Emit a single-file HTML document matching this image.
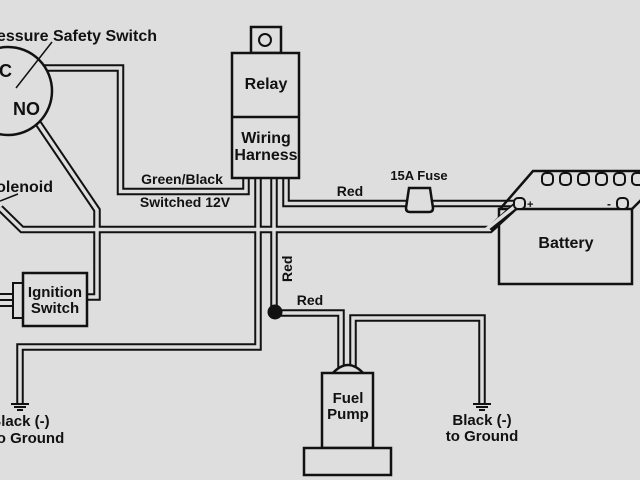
<!DOCTYPE html>
<html><head><meta charset="utf-8"><style>
html,body{margin:0;padding:0;background:#dedede;}
svg{display:block;}
text{font-family:"Liberation Sans",sans-serif;font-weight:bold;fill:#111;}
.w1{fill:none;stroke:#111;stroke-width:7.5;stroke-linejoin:miter;}
.w2{fill:none;stroke:#dedede;stroke-width:3.5;stroke-linejoin:miter;}
</style></head><body>
<svg width="640" height="480" viewBox="0 0 640 480" xmlns="http://www.w3.org/2000/svg">
<rect width="640" height="480" fill="#dedede"/>
<g>
<path class="w1" d="M44 68 H120.5 V191.5 H246 V176"/>
<path class="w1" d="M36 120 L97 210 V297 H86"/>
<path class="w1" d="M0 208 L22 229.5 H490 L518 204"/>
<path class="w1" d="M286 176 V203.5 H518"/>
<path class="w1" d="M258 176 V347 H20 V404"/>
<path class="w1" d="M274 176 V311 M274 313 H341 V372"/>
<path class="w1" d="M353 372 V318 H482 V404"/>
</g>
<g>
<path class="w2" d="M44 68 H120.5 V191.5 H246 V176"/>
<path class="w2" d="M36 120 L97 210 V297 H86"/>
<path class="w2" d="M0 208 L22 229.5 H490 L518 204"/>
<path class="w2" d="M286 176 V203.5 H518"/>
<path class="w2" d="M258 176 V347 H20 V404"/>
<path class="w2" d="M274 176 V311 M274 313 H341 V372"/>
<path class="w2" d="M353 372 V318 H482 V404"/>
</g>
<path d="M409 188 H430 L433 208 Q433 212 429 212 H410 Q406 212 406 208 Z" fill="#dedede" stroke="#111" stroke-width="2.5"/>
<circle cx="275" cy="312" r="7.5" fill="#111"/>
<circle cx="8" cy="91" r="44" fill="#dedede" stroke="#111" stroke-width="2.5"/>
<line x1="52" y1="42" x2="16" y2="88" stroke="#111" stroke-width="1.5"/>
<text x="157" y="41" font-size="16" text-anchor="end">Pressure Safety Switch</text>
<text x="-1" y="77" font-size="18">C</text>
<text x="13" y="115" font-size="18">NO</text>
<text x="53" y="192" font-size="16" text-anchor="end">Solenoid</text>
<line x1="18" y1="194" x2="0" y2="201" stroke="#111" stroke-width="1.5"/>
<rect x="251" y="27" width="30" height="26" fill="#dedede" stroke="#111" stroke-width="2.5"/>
<circle cx="265" cy="40" r="6" fill="none" stroke="#111" stroke-width="2"/>
<rect x="232" y="53" width="67" height="125" fill="#dedede" stroke="#111" stroke-width="2.5"/>
<line x1="232" y1="117" x2="299" y2="117" stroke="#111" stroke-width="2.5"/>
<text x="266" y="89" font-size="16" text-anchor="middle">Relay</text>
<text x="266" y="143" font-size="16" text-anchor="middle">Wiring</text>
<text x="266" y="160" font-size="16" text-anchor="middle">Harness</text>
<text x="182" y="184" font-size="14" text-anchor="middle">Green/Black</text>
<text x="185" y="207" font-size="14" text-anchor="middle">Switched 12V</text>
<text x="350" y="196" font-size="14" text-anchor="middle">Red</text>
<text x="419" y="180" font-size="13" text-anchor="middle">15A Fuse</text>
<text x="0" y="0" font-size="14" transform="translate(292,282) rotate(-90)">Red</text>
<text x="310" y="305" font-size="14" text-anchor="middle">Red</text>
<rect x="13" y="283" width="11" height="35" fill="#dedede" stroke="#111" stroke-width="2"/>
<line x1="0" y1="294" x2="13" y2="294" stroke="#111" stroke-width="2"/>
<line x1="0" y1="300" x2="13" y2="300" stroke="#111" stroke-width="2"/>
<line x1="0" y1="306" x2="13" y2="306" stroke="#111" stroke-width="2"/>
<rect x="23" y="273" width="64" height="53" fill="#dedede" stroke="#111" stroke-width="2.5"/>
<text x="55" y="297" font-size="15" text-anchor="middle">Ignition</text>
<text x="55" y="313" font-size="15" text-anchor="middle">Switch</text>
<g stroke="#111" stroke-width="2">
<line x1="11" y1="404" x2="29" y2="404"/><line x1="14" y1="407" x2="26" y2="407"/><line x1="17" y1="410" x2="23" y2="410"/>
<line x1="473" y1="404" x2="491" y2="404"/><line x1="476" y1="407" x2="488" y2="407"/><line x1="479" y1="410" x2="485" y2="410"/>
</g>
<text x="20" y="426" font-size="15" text-anchor="middle">Black (-)</text>
<text x="28" y="443" font-size="15" text-anchor="middle">to Ground</text>
<text x="482" y="425" font-size="15" text-anchor="middle">Black (-)</text>
<text x="482" y="441" font-size="15" text-anchor="middle">to Ground</text>
<path d="M332 374 Q348 356 364 374 Z" fill="#dedede" stroke="#111" stroke-width="2.5"/>
<rect x="322" y="373" width="51" height="75" fill="#dedede" stroke="#111" stroke-width="2.5"/>
<rect x="304" y="448" width="87" height="27" fill="#dedede" stroke="#111" stroke-width="2.5"/>
<text x="348" y="403" font-size="15" text-anchor="middle">Fuel</text>
<text x="348" y="419" font-size="15" text-anchor="middle">Pump</text>
<path d="M500 209 L533 171 H645" fill="none" stroke="#111" stroke-width="2.5"/>
<path d="M632 209 L642 199" fill="none" stroke="#111" stroke-width="2.5"/>
<rect x="499" y="209" width="133" height="75" fill="#dedede" stroke="#111" stroke-width="2.5"/>
<path class="w1" d="M490 229.5 L518 204"/>
<path class="w2" d="M486 229.5 L518 204"/>
<g fill="#dedede" stroke="#111" stroke-width="2">
<rect x="542" y="173" width="11" height="12" rx="4"/><rect x="560" y="173" width="11" height="12" rx="4"/>
<rect x="578" y="173" width="11" height="12" rx="4"/><rect x="596" y="173" width="11" height="12" rx="4"/>
<rect x="614" y="173" width="11" height="12" rx="4"/><rect x="632" y="173" width="11" height="12" rx="4"/>
<rect x="514" y="198" width="11" height="11" rx="4"/><rect x="617" y="198" width="11" height="11" rx="4"/>
</g>
<text x="527" y="208" font-size="11">+</text>
<text x="607" y="208" font-size="12">-</text>
<text x="566" y="248" font-size="16" text-anchor="middle">Battery</text>
</svg>
</body></html>
